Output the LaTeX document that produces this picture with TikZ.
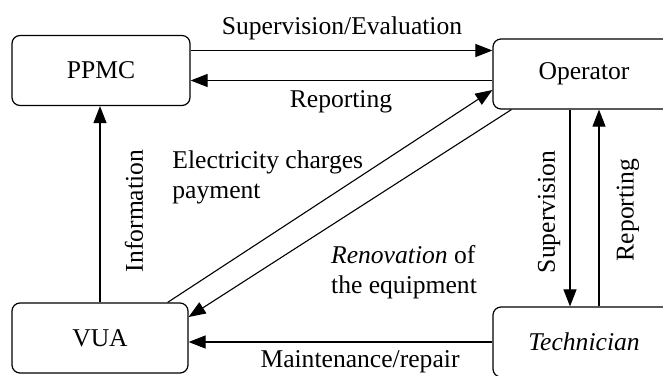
\documentclass[tikz,border=0pt]{standalone}
\usepackage{fontspec}
\setmainfont{Liberation Serif}
\usetikzlibrary{arrows.meta}

\begin{document}
\begin{tikzpicture}[
  x=0.5pt, y=-0.5pt,
  font=\fontsize{12.8}{15}\selectfont,
  caja/.style={draw, rounded corners=4pt, line width=0.6pt, minimum height=35pt, text width=#1-8pt, align=center, minimum width=#1},
  caja/.default=89pt,
  flecha/.style={-{Triangle[length=8.5pt,width=6.5pt]}, line width=0.55pt},
  et/.style={inner sep=1pt}
]
\useasboundingbox (0,0) rectangle (663,375);
\clip (0,0) rectangle (663,375);
% Cajas
\node[caja] (ppmc) at (101,70.5) {PPMC};
\node[caja=91pt] (oper) at (584,74) {Operator};
\node[caja=88pt] (vua) at (100,338) {VUA};
\node[caja=91pt] (tech) at (584,342) {\textit{Technician}};
% Flechas
\draw[flecha] ([yshift=10pt]ppmc.east) -- ([yshift=10pt]ppmc.east -| oper.west);
\draw[flecha] ([yshift=-5pt]ppmc.east -| oper.west) -- ([yshift=-5pt]ppmc.east);
\draw[flecha] (vua.north) -- (vua.north |- ppmc.south);
\draw[flecha] ([xshift=-10.5pt]vua.north east) -- ([yshift=-8pt]oper.west);
\draw[flecha] ([xshift=9.5pt]oper.south west) -- ([yshift=10.5pt]vua.east);
\draw[flecha] (tech.west) -- (tech.west -| vua.east);
\draw[flecha] ([xshift=-7pt]oper.south) -- ([xshift=-7pt]oper.south |- tech.north);
\draw[flecha] ([xshift=7.5pt]tech.north) -- ([xshift=7.5pt]tech.north |- oper.south);
% Etiquetas
\node[et] (supeva) at (342,28) {Supervision/Evaluation};
\node[et] (rep1) at (341,102) {Reporting};
\node[et, rotate=90] (info) at (134,211) {Information};
\node[et, anchor=north west, align=left] (elec) at (170,148) {Electricity charges\\payment};
\node[et, align=left] (renov) at (404,272) {\textit{Renovation} of\\the equipment};
\node[et] (mant) at (360,362) {Maintenance/repair};
\node[et, rotate=90] (sup) at (549,212) {Supervision};
\node[et, rotate=90] (rep2) at (628,210) {Reporting};
\end{tikzpicture}
\end{document}
